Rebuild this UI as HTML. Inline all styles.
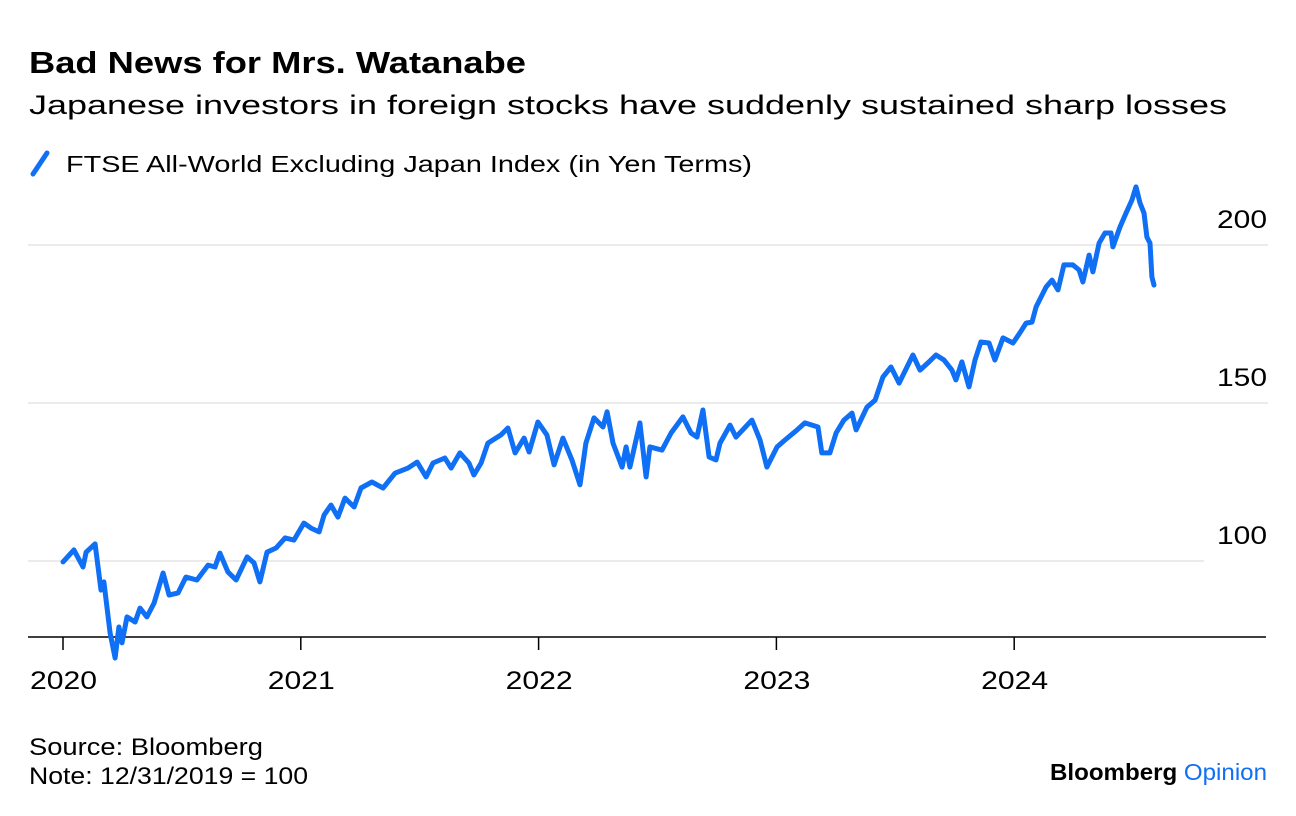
<!DOCTYPE html>
<html><head><meta charset="utf-8"><style>
html,body{margin:0;padding:0;background:#fff;}
svg{display:block;font-family:"Liberation Sans",sans-serif;}
</style></head><body>
<svg id="chart" width="1296" height="816" viewBox="0 0 1296 816">
<text x="29" y="73" font-size="31" font-weight="bold" fill="#000" textLength="497" lengthAdjust="spacingAndGlyphs">Bad News for Mrs. Watanabe</text>
<text x="29" y="114" font-size="27" fill="#000" textLength="1198" lengthAdjust="spacingAndGlyphs">Japanese investors in foreign stocks have suddenly sustained sharp losses</text>
<line x1="33" y1="174" x2="47" y2="153" stroke="#0f6ff5" stroke-width="5" stroke-linecap="round"/>
<text x="66" y="172" font-size="23" fill="#000" textLength="686" lengthAdjust="spacingAndGlyphs">FTSE All-World Excluding Japan Index (in Yen Terms)</text>
<g id="grid"></g>
<g id="yticks"></g>
<g id="xaxis"></g>
<path id="line" fill="none" stroke="#0f6ff5" stroke-width="5" stroke-linejoin="round" stroke-linecap="round"/>
<text x="29" y="755" font-size="24" fill="#000" textLength="234" lengthAdjust="spacingAndGlyphs">Source: Bloomberg</text>
<text x="29" y="784" font-size="24" fill="#000" textLength="279" lengthAdjust="spacingAndGlyphs">Note: 12/31/2019 = 100</text>
<text x="1050" y="780" font-size="23" textLength="217" lengthAdjust="spacingAndGlyphs"><tspan font-weight="bold" fill="#000">Bloomberg</tspan><tspan fill="#0f6ff5"> Opinion</tspan></text>
</svg>
<script>
const dates=[0.000,0.046,0.084,0.097,0.135,0.160,0.172,0.198,0.219,0.235,0.248,0.269,0.303,0.324,0.353,0.383,0.421,0.446,0.484,0.517,0.563,0.610,0.639,0.660,0.694,0.728,0.774,0.803,0.828,0.858,0.896,0.934,0.971,1.013,1.043,1.077,1.098,1.127,1.156,1.186,1.224,1.253,1.299,1.346,1.396,1.451,1.489,1.527,1.556,1.606,1.632,1.669,1.707,1.728,1.758,1.787,1.842,1.871,1.901,1.939,1.960,1.997,2.035,2.065,2.102,2.140,2.174,2.199,2.233,2.271,2.288,2.313,2.351,2.368,2.384,2.426,2.452,2.468,2.519,2.557,2.607,2.641,2.666,2.691,2.717,2.746,2.763,2.805,2.830,2.897,2.931,2.960,3.003,3.036,3.087,3.120,3.175,3.191,3.225,3.251,3.284,3.318,3.335,3.381,3.415,3.448,3.482,3.516,3.549,3.574,3.604,3.637,3.671,3.705,3.738,3.755,3.780,3.810,3.835,3.860,3.894,3.919,3.953,3.995,4.024,4.050,4.075,4.092,4.134,4.159,4.184,4.209,4.247,4.273,4.289,4.315,4.331,4.357,4.382,4.407,4.415,4.445,4.470,4.495,4.512,4.529,4.546,4.558,4.571,4.579,4.588];
const values=[99.7,103.5,98.1,102.8,105.4,90.8,93.4,77.2,69.3,79.1,74.1,82.3,80.7,85.1,82.3,86.7,96.2,89.2,89.9,94.9,94.0,98.7,98.1,102.5,96.5,94.0,101.3,99.4,93.4,102.8,104.1,107.3,106.6,112.0,110.4,109.2,114.6,117.7,113.9,119.9,117.1,123.1,125.0,123.1,127.8,129.4,131.3,126.6,131.0,132.6,129.4,134.2,131.0,127.2,131.0,137.3,139.9,142.1,134.2,138.9,134.5,144.0,139.9,130.4,138.9,132.0,124.1,137.3,145.3,142.4,147.2,137.3,129.7,136.1,129.7,143.7,126.6,136.1,135.1,140.5,145.6,140.5,139.2,147.8,132.9,132.0,137.3,143.0,139.2,144.6,138.3,129.7,136.1,138.3,141.5,143.7,142.4,134.2,134.2,140.5,144.6,146.8,141.5,148.7,150.9,158.2,161.4,156.3,161.4,165.2,160.4,162.7,165.2,163.6,160.4,157.3,163.0,155.1,163.6,169.3,169.0,163.6,170.6,169.0,172.2,175.3,175.6,180.4,186.7,188.9,185.8,193.7,193.7,192.1,188.3,196.8,191.5,200.6,203.8,203.8,199.4,205.7,210.1,214.2,218.4,213.3,210.1,202.5,200.6,189.9,187.3];
const yTicks=[100,150,200];
const xTicks=[2020,2021,2022,2023,2024];
const NS="http://www.w3.org/2000/svg";
function xs(t){return 63+t*237.8;}
function ys(v){return 561-(v-100)*3.16;}
const grid=document.getElementById('grid'),yt=document.getElementById('yticks'),xa=document.getElementById('xaxis');
yTicks.forEach(v=>{
  const l=document.createElementNS(NS,'line');
  
  
  l.setAttribute('x1',28);l.setAttribute('x2',v===100?1204:1268);
  l.setAttribute('y1',ys(v));l.setAttribute('y2',ys(v));
  l.setAttribute('stroke','#ebebeb');l.setAttribute('stroke-width','2');
  grid.appendChild(l);
  const t=document.createElementNS(NS,'text');
  
  
  t.setAttribute('x',1217);t.setAttribute('y',ys(v)-17);
  t.setAttribute('font-size','25');
  t.setAttribute('textLength','50');t.setAttribute('lengthAdjust','spacingAndGlyphs');
  t.textContent=v;yt.appendChild(t);
});
const ax=document.createElementNS(NS,'line');


ax.setAttribute('x1',28);ax.setAttribute('x2',1266);ax.setAttribute('y1',637);ax.setAttribute('y2',637);
ax.setAttribute('stroke','#000');ax.setAttribute('stroke-width','1.5');xa.appendChild(ax);
xTicks.forEach(y=>{
  const x=xs(y-2020);
  const k=document.createElementNS(NS,'line');
  
  
  k.setAttribute('x1',x);k.setAttribute('x2',x);k.setAttribute('y1',637);k.setAttribute('y2',650);
  k.setAttribute('stroke','#000');k.setAttribute('stroke-width','1.5');xa.appendChild(k);
  const t=document.createElementNS(NS,'text');
  
  
  t.setAttribute('x',x-33);t.setAttribute('y',689);t.setAttribute('font-size','25');
  t.setAttribute('textLength','67');t.setAttribute('lengthAdjust','spacingAndGlyphs');
  t.textContent=y;xa.appendChild(t);
});
document.getElementById('line').setAttribute('d',dates.map((d,i)=>(i?'L':'M')+xs(d).toFixed(1)+' '+ys(values[i]).toFixed(1)).join(' '));
</script>
</body></html>
